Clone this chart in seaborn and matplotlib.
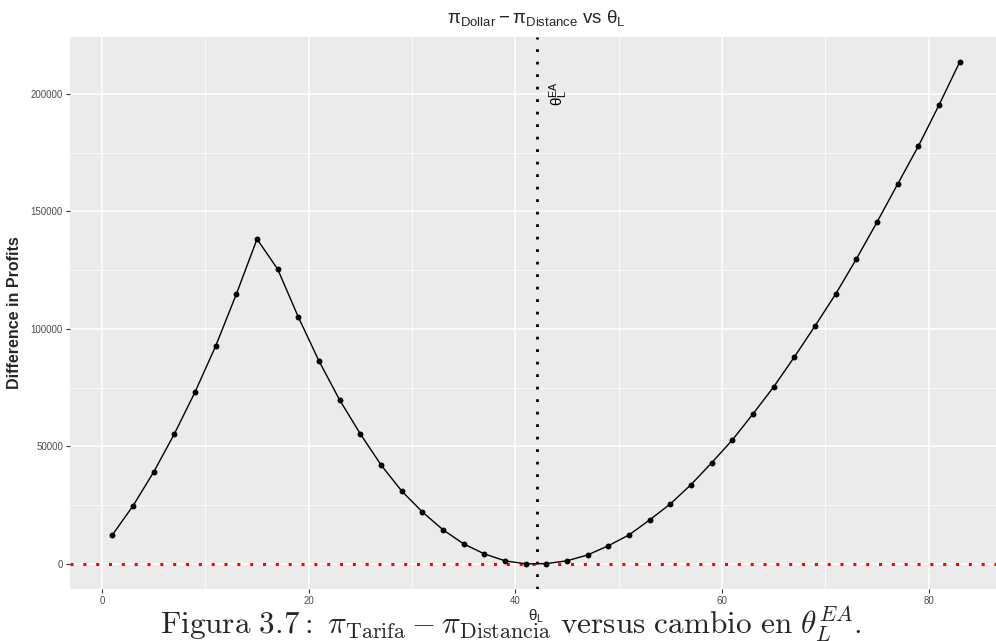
import numpy as np
import pandas as pd
import matplotlib
matplotlib.use("Agg")
import matplotlib.pyplot as plt
import seaborn as sns

theta = list(range(1, 84, 2))
diff_profits = [12300, 24700, 39100, 55300, 73100, 92700, 114800, 138200,
                125400, 105000, 86300, 69700, 55300, 42100, 31000, 22100,
                14500, 8500, 4250, 1300, 0, 100, 1300, 3800, 7700, 12300,
                18700, 25500, 33700, 43000, 52700, 63800, 75300, 88000,
                101200, 114800, 129700, 145400, 161600, 177700, 195200, 213500]
theta_ea = 42.1
x_ticks = [0, 20, 40, 60, 80]
y_ticks = [0, 50000, 100000, 150000, 200000]

df = pd.DataFrame({"theta": theta, "diff": diff_profits})

sns.set_theme(style="darkgrid")
plt.rcParams["mathtext.fontset"] = "cm"
plt.rcParams["font.family"] = ["Liberation Sans", "DejaVu Sans"]

fig = plt.figure(figsize=(9.96, 6.41), dpi=100)
ax = fig.add_axes([70/996, 1-589/641, (1002-70)/996, (589-37)/641])
ax.set_facecolor("#EBEBEB")

sns.lineplot(data=df, x="theta", y="diff", ax=ax, color="black", linewidth=1.0, zorder=3)
sns.scatterplot(data=df, x="theta", y="diff", ax=ax, color="black", s=18,
                edgecolor="black", linewidth=0, zorder=4)

ax.axhline(0, color="red", linestyle=(0, (1, 3.2)), linewidth=2.2, zorder=2)
ax.axvline(theta_ea, color="black", linestyle=(0, (1, 3.5)), linewidth=2.0, zorder=2)
ax.text(theta_ea + 1.0, 200000, r"$\mathregular{\theta_L^{EA}}$", rotation=90,
        ha="left", va="center", fontsize=11, color="black")

ax.set_xlim(-3.1, 87.1)
ax.set_ylim(-10700, 224200)
ax.set_xticks(x_ticks)
ax.set_yticks(y_ticks)
ax.set_xticks([10, 30, 50, 70], minor=True)
ax.set_yticks([25000, 75000, 125000, 175000], minor=True)
ax.grid(which="major", color="white", linewidth=1.1)
ax.grid(which="minor", color="white", linewidth=0.55)
ax.tick_params(axis="both", which="major", length=3, width=0.8, color="#333333",
               labelsize=7, labelcolor="#4D4D4D", pad=2, bottom=True, left=True)
ax.tick_params(axis="both", which="minor", length=0)
ax.set_yticklabels([str(v) for v in y_ticks])
for s in ax.spines.values():
    s.set_visible(False)

ax.set_xlabel(r"$\mathregular{\theta_L}$", fontsize=11, labelpad=1)
ax.set_ylabel("Difference in Profits", fontsize=11.5, fontweight="bold", labelpad=6)
fig.text(536/996, 1-18/641, r"$\mathregular{\pi_{Dollar} - \pi_{Distance}}$ vs $\mathregular{\theta_L}$",
         ha="center", va="center", fontsize=13.5)

fig.text(511/996, 1-623.5/641,
         r"$\mathrm{Figura\ 3.7{:}}\ \pi_{\mathrm{Tarifa}} - \pi_{\mathrm{Distancia}}\ \mathrm{versus\ cambio\ en}\ \theta_L^{EA}\mathrm{.}$",
         ha="center", va="center", fontsize=22.5)

fig.savefig("out.png", dpi=100)
